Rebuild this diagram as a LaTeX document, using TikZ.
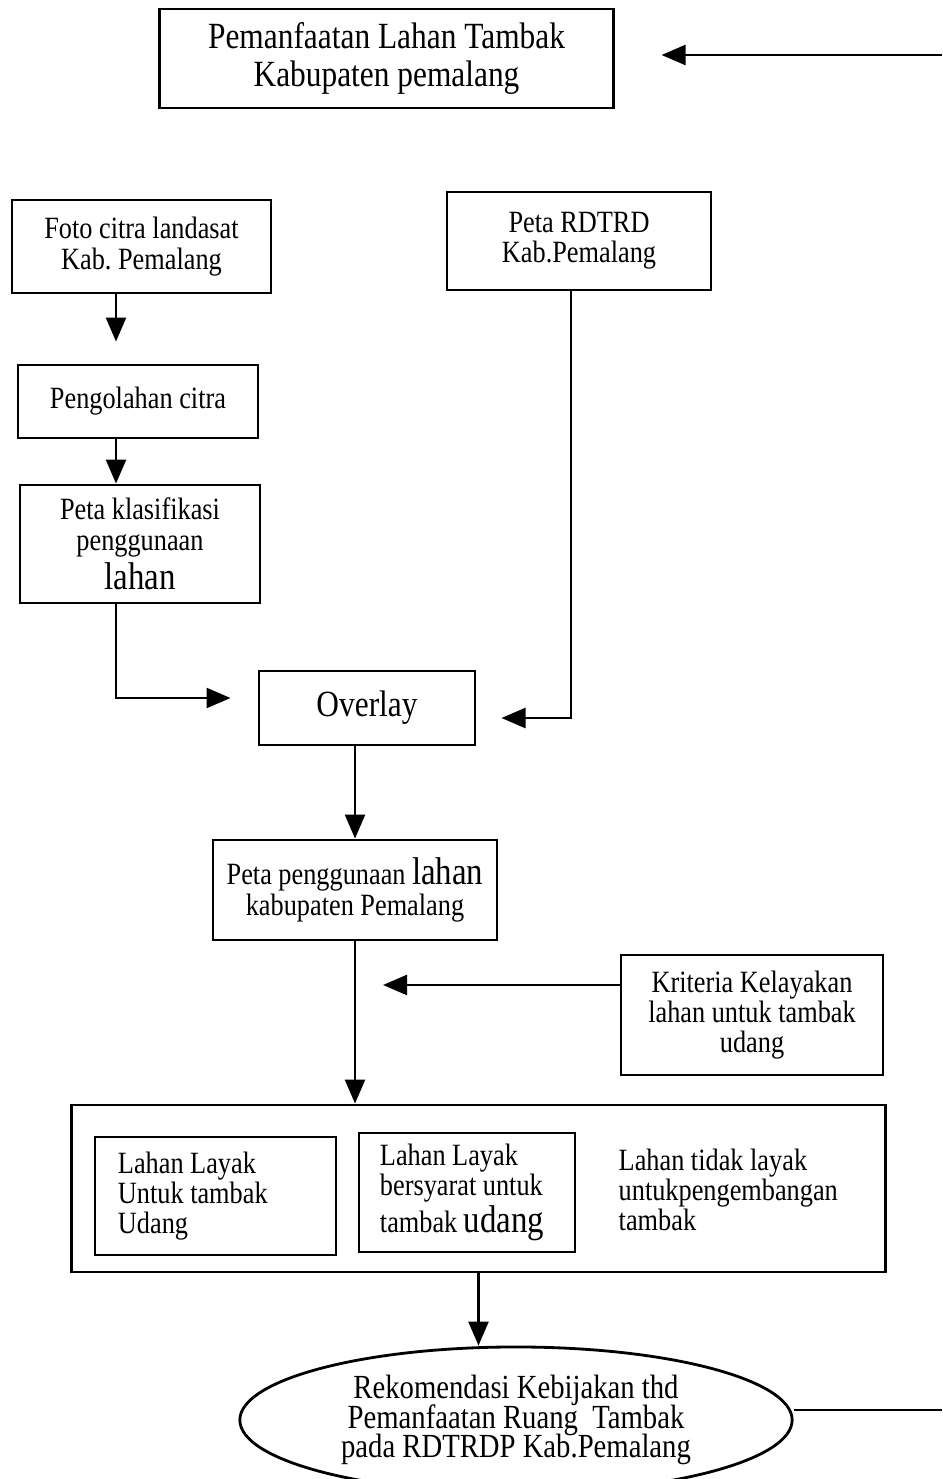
\documentclass[tikz,border=0pt]{standalone}
\usepackage{fontspec}
\setmainfont{Liberation Serif}[FakeStretch=0.85]
\usepackage{tikz}
\usetikzlibrary{arrows.meta,shapes.geometric}

\newcommand{\teks}{\fontsize{8.8}{8.6}\selectfont\lineskiplimit=-20pt\frenchspacing}
\newcommand{\teksoval}{\fontsize{9.6}{8.3}\selectfont\lineskiplimit=-20pt\frenchspacing}
\newcommand{\besar}[1]{{\fontsize{11}{11}\selectfont #1}}

\tikzset{
  kotak/.style={draw, line width=0.8pt, inner sep=0pt, align=center, font=\teks},
  panah/.style={-{Triangle[length=0.24cm,width=0.2cm]}, line width=0.7pt},
  garis/.style={line width=0.7pt}
}

\begin{document}
\begin{tikzpicture}[x=0.01cm, y=-0.01cm]
  \clip (0,0) rectangle (942,1479);
  \node[kotak, minimum width=4.53cm, minimum height=0.99cm, font=\fontsize{10.5}{10.8}\selectfont] (atas) at (386.5,58.5) {Pemanfaatan Lahan Tambak\\Kabupaten pemalang};
  \node[kotak, minimum width=2.59cm, minimum height=0.93cm] (foto) at (141.5,246.5) {Foto citra landasat\\Kab. Pemalang};
  \node[kotak, minimum width=2.64cm, minimum height=0.98cm] (rdtrd) at (579,241) {Peta RDTRD\\Kab.Pemalang};
  \node[kotak, minimum width=2.40cm, minimum height=0.73cm] (olah) at (138,401.5) {Pengolahan citra};
  \node[kotak, minimum width=2.40cm, minimum height=1.18cm] (klas) at (140,544) {Peta klasifikasi\\penggunaan\\[0.09cm]\besar{lahan}};
  \node[kotak, minimum width=2.16cm, minimum height=0.74cm, font=\fontsize{10.5}{10.5}\selectfont] (overlay) at (367,708) {Overlay};
  \node[kotak, minimum width=2.84cm, minimum height=1.00cm] (guna) at (355,890) {Peta penggunaan \besar{lahan}\\kabupaten Pemalang};
  \node[kotak, minimum width=2.62cm, minimum height=1.20cm] (krit) at (752,1015) {Kriteria Kelayakan\\lahan untuk tambak\\udang};
  \node[kotak, minimum width=8.13cm, minimum height=1.67cm] (hasil) at (478.5,1188.5) {};
  \node[kotak, align=flush left, text width=1.95cm, inner xsep=0.23cm, minimum height=1.18cm] (layak) at (215.5,1196) {Lahan Layak\\Untuk tambak\\Udang};
  \node[kotak, align=flush left, text width=1.74cm, inner xsep=0.21cm, minimum height=1.19cm] (syarat) at (467,1192.5) {Lahan Layak\\bersyarat untuk\\[0.07cm]tambak \besar{udang}};
  \node[align=flush left, anchor=west, inner sep=0pt, font=\teks] (tidak) at (618,1190) {Lahan tidak layak\\untukpengembangan\\tambak};
  \node[kotak, ellipse, minimum width=5.52cm, minimum height=1.46cm, font=\teksoval] (reko) at (516,1420) {Rekomendasi Kebijakan thd\\Pemanfaatan Ruang\ \ Tambak\\pada RDTRDP Kab.Pemalang};

  \coordinate (masuk) at (942,55);
  \coordinate (keluar) at (942,1410);
  \coordinate (jalur) at (116,0);

  \draw[panah, shorten >=0.47cm] (masuk) -- (masuk -| atas.east);
  \draw[panah, shorten >=0.22cm] (foto.south -| jalur) -- (olah.north -| jalur);
  \draw[panah] (olah.south -| jalur) -- (klas.north -| jalur);
  \draw[panah, shorten >=0.27cm] (klas.south -| jalur) |- ([yshift=0.1cm]overlay.west);
  \draw[panah, shorten >=0.25cm] (rdtrd.south -| 571,0) |- ([yshift=-0.1cm]overlay.east);
  \draw[panah] (guna.north |- overlay.south) -- (guna.north);
  \draw[panah] (guna.south) -- (guna.south |- hasil.north);
  \draw[panah, shorten >=0.28cm] ([yshift=0.3cm]krit.west) -- ([yshift=0.3cm]krit.west -| guna.south);
  \draw[panah] (hasil.south) -- (hasil.south |- reko.north);
  \draw[garis] ([yshift=0.1cm]reko.east) -- ([yshift=0.1cm]reko.east -| keluar);
\end{tikzpicture}
\end{document}
